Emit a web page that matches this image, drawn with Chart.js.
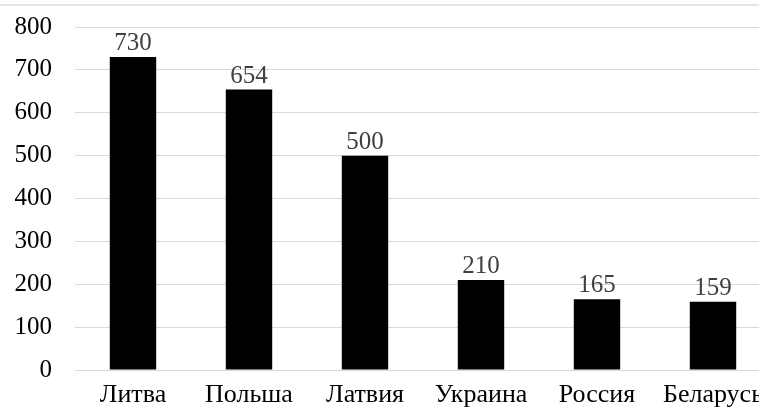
<!DOCTYPE html>
<html>
<head>
<meta charset="utf-8">
<script src="https://cdn.jsdelivr.net/npm/chart.js@4/dist/chart.umd.min.js"></script>
<style>
  html, body { margin: 0; padding: 0; background: #fff; width: 759px; height: 413px; overflow: hidden; }
  #wrap { position: absolute; left: 0; top: 0; width: 780px; height: 413px; }
  #topline { position: absolute; left: 0; top: 4px; width: 759px; height: 2px; background: #e4e4e4; }
</style>
</head>
<body>
<div id="topline"></div>
<div id="wrap"><canvas id="c" width="780" height="413"></canvas></div>
<script>
const categories = ["Литва", "Польша", "Латвия", "Украина", "Россия", "Беларусь"];
const values = [730, 654, 500, 210, 165, 159];
const yTicks = [0, 100, 200, 300, 400, 500, 600, 700, 800];

const FONT = "'Liberation Serif', 'Times New Roman', serif";

const valueLabels = {
  id: 'valueLabels',
  afterDatasetsDraw(chart) {
    const ctx = chart.ctx;
    const meta = chart.getDatasetMeta(0);
    ctx.save();
    ctx.font = "25px " + FONT;
    ctx.fillStyle = "#404040";
    ctx.textAlign = "center";
    ctx.textBaseline = "bottom";
    meta.data.forEach((bar, i) => {
      ctx.fillText(String(values[i]), bar.x, bar.y - 1);
    });
    ctx.restore();
  }
};

new Chart(document.getElementById('c'), {
  type: 'bar',
  data: {
    labels: categories,
    datasets: [{
      data: values,
      backgroundColor: '#000000',
      borderWidth: 0,
      barPercentage: 0.4,
      categoryPercentage: 1.0
    }]
  },
  options: {
    responsive: false,
    animation: false,
    devicePixelRatio: 1,
    layout: { padding: { top: 27, right: 9, left: 0, bottom: 0 } },
    plugins: { legend: { display: false }, tooltip: { enabled: false } },
    scales: {
      y: {
        min: 0, max: 800,
        afterFit(s) { s.width = 75; s.paddingTop = 0; s.paddingBottom = 0; },
        afterBuildTicks(s) { s.ticks = yTicks.map(v => ({ value: v })); },
        border: { display: false },
        grid: { color: '#d9d9d9', lineWidth: 1, drawTicks: false },
        ticks: { color: '#000', font: { family: FONT, size: 25 }, padding: 23 }
      },
      x: {
        afterFit(s) { s.height = 43; s.paddingLeft = 0; s.paddingRight = 0; },
        border: { display: true, color: '#d9d9d9' },
        grid: { display: false, drawTicks: false },
        ticks: { color: '#000', font: { family: FONT, size: 26 }, padding: 10, maxRotation: 0, autoSkip: false }
      }
    }
  },
  plugins: [valueLabels]
});
</script>
</body>
</html>
